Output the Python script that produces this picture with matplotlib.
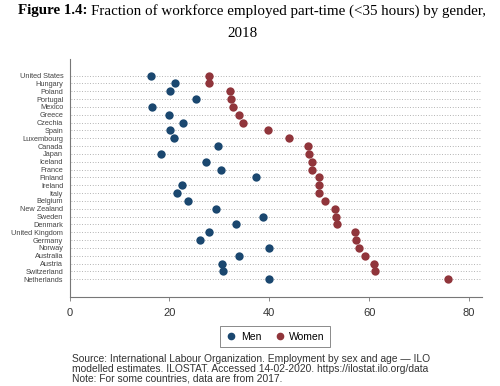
import matplotlib.pyplot as plt
from matplotlib.lines import Line2D

countries = ['United States', 'Hungary', 'Poland', 'Portugal', 'Mexico', 'Greece',
             'Czechia', 'Spain', 'Luxembourg', 'Canada', 'Japan', 'Iceland', 'France',
             'Finland', 'Ireland', 'Italy', 'Belgium', 'New Zealand', 'Sweden', 'Denmark',
             'United Kingdom', 'Germany', 'Norway', 'Australia', 'Austria', 'Switzerland',
             'Netherlands']
men = [16.3, 21.2, 20.2, 25.3, 16.6, 20.0, 22.8, 20.2, 21.0, 29.8, 18.4, 27.4, 30.3,
       37.3, 22.6, 21.5, 23.8, 29.4, 38.8, 33.4, 28.0, 26.2, 40.0, 34.0, 30.6, 30.7,
       40.0]
women = [27.9, 28.0, 32.2, 32.4, 32.8, 33.9, 34.8, 39.7, 44.0, 47.8, 48.0, 48.5, 48.5,
         49.9, 50.0, 50.0, 51.1, 53.2, 53.3, 53.6, 57.1, 57.4, 57.9, 59.2, 61.0, 61.2,
         75.8]
xticks = [0, 20, 40, 60, 80]

navy = '#1a476f'
maroon = '#90353b'
sans = ['Liberation Sans', 'DejaVu Sans']
serif = ['Liberation Serif', 'DejaVu Serif']

fig = plt.figure(figsize=(5, 3.86), dpi=100)
ax = fig.add_axes([0.139, 0.231, 0.825, 0.616])

rows = list(range(len(countries)))
ax.hlines(rows, 0.4, 82.2, colors='#9a9a9a', linewidth=0.6,
          linestyles=(0, (1, 2.2)), zorder=1)
ax.scatter(men, rows, s=36, color=navy, zorder=3, linewidths=0)
ax.scatter(women, rows, s=36, color=maroon, zorder=3, linewidths=0)

ax.set_xlim(0, 82.6)
ax.set_ylim(len(countries) - 1 + 2.25, -2.1)
ax.set_yticks(rows)
ax.set_yticklabels(countries, fontsize=5.3, family=sans, color='#444444')
ax.set_xticks(xticks)
ax.set_xticklabels([str(t) for t in xticks], fontsize=8, family=sans, color='#333333')
ax.tick_params(axis='y', length=0, pad=4.5)
ax.tick_params(axis='x', length=3, width=0.6, color='#777777', pad=5)
for s in ['top', 'right']:
    ax.spines[s].set_visible(False)
for s in ['left', 'bottom']:
    ax.spines[s].set_color('#777777')
    ax.spines[s].set_linewidth(0.8)

handles = [Line2D([], [], marker='o', linestyle='', color=navy, markersize=4.5),
           Line2D([], [], marker='o', linestyle='', color=maroon, markersize=4.5)]
leg = fig.legend(handles, ['Men', 'Women'], loc='center', bbox_to_anchor=(0.55, 0.128),
                 ncol=2, fancybox=False, edgecolor='#777777', framealpha=1,
                 prop={'family': sans, 'size': 7.5}, handletextpad=0.3,
                 columnspacing=1.2, borderpad=0.5, handlelength=1.2)
leg.get_frame().set_linewidth(0.6)

fig.text(0.143, 0.044, 'Source: International Labour Organization. Employment by sex and age \u2014 ILO\n'
         'modelled estimates. ILOSTAT. Accessed 14-02-2020. https://ilostat.ilo.org/data\n'
         'Note: For some countries, data are from 2017.',
         fontsize=7.4, family=sans, color='#333333', va='center', linespacing=0.95)

# title with bold prefix
fig.canvas.draw()
r = fig.canvas.get_renderer()
t1 = fig.text(0.036, 0.972, 'Figure 1.4:', fontsize=10.8, family=serif, weight='bold',
              va='center')
bb = t1.get_window_extent(r).transformed(fig.transFigure.inverted())
fig.text(bb.x1 + 0.006, 0.972, 'Fraction of workforce employed part-time (<35 hours) by gender,',
         fontsize=10.8, family=serif, va='center')
fig.text(0.486, 0.913, '2018', fontsize=10.8, family=serif, ha='center', va='center')

fig.savefig('out.png', dpi=100)
